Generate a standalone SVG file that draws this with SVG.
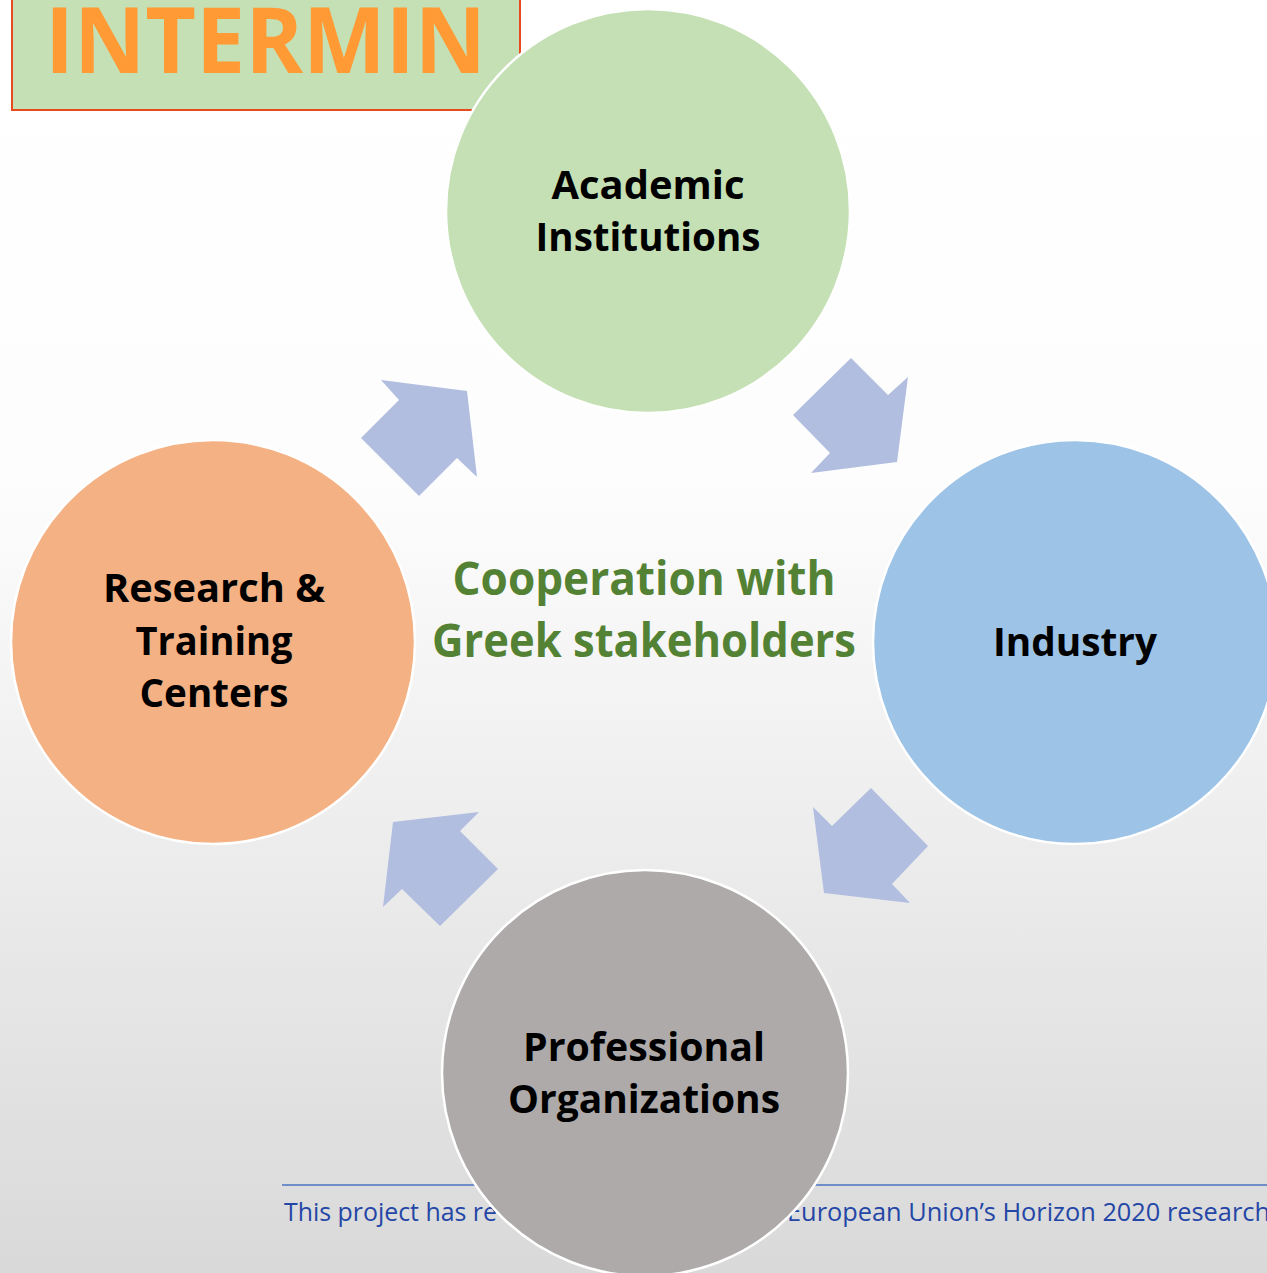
<svg xmlns="http://www.w3.org/2000/svg" width="1267" height="1273" viewBox="0 0 1267 1273">
<defs>
<linearGradient id="bg" x1="0" y1="0" x2="0" y2="1">
<stop offset="0" stop-color="#ffffff"/>
<stop offset="0.38" stop-color="#fdfdfd"/>
<stop offset="1" stop-color="#d9d9d9"/>
</linearGradient>
<style>
.node{stroke:#ffffff;stroke-width:2.5}
.lbl{font-family:"Open Sans","Noto Sans","Liberation Sans",sans-serif;font-weight:bold;font-size:40px;fill:#000000;text-anchor:middle}
.arrow{fill:#b1bee0}
.center{font-family:"Open Sans","Noto Sans","Liberation Sans",sans-serif;font-weight:bold;font-size:46px;fill:#548235;text-anchor:middle}
.foot{font-family:"Open Sans","Noto Sans","Liberation Sans",sans-serif;font-size:25px;fill:#2446a6}
</style>
</defs>
<rect x="0" y="0" width="1267" height="1273" fill="url(#bg)"/>
<g id="logo">
<rect x="12" y="-5" width="508" height="115" fill="#c5e0b4" stroke="#e84a1f" stroke-width="2"/>
<text x="45" y="73" font-family="'Open Sans','Noto Sans',sans-serif" font-weight="bold" font-size="92" fill="#ff9a35" textLength="441" lengthAdjust="spacingAndGlyphs">INTERMIN</text>
</g>
<g id="footer">
<line x1="282" y1="1185" x2="1267" y2="1185" stroke="#4a72c0" stroke-width="1.5"/>
<text class="foot" x="284" y="1221" textLength="213" lengthAdjust="spacingAndGlyphs">This project has re</text>
<text class="foot" x="787" y="1221" textLength="483" lengthAdjust="spacingAndGlyphs">European Union’s Horizon 2020 research</text>
</g>
<g id="connectors">
<polygon class="arrow" points="381,380 467,391 477,477 457,458 419,496 361,438 399,400"/>
<polygon class="arrow" points="851,358 888,395 908,377 897,462 811,473 830,453 793,415"/>
<polygon class="arrow" points="871,788 928,846 892,884 910,903 824,893 813,807 832,826"/>
<polygon class="arrow" points="393,822 479,812 460,831 498,869 440,926 402,889 383,907"/>
</g>
<g id="academic">
<circle class="node" cx="648" cy="211" r="202" fill="#c5e0b4"/>
<text class="lbl" x="648" y="199" textLength="193" lengthAdjust="spacingAndGlyphs">Academic</text>
<text class="lbl" x="648" y="251" textLength="225" lengthAdjust="spacingAndGlyphs">Institutions</text>
</g>
<g id="industry">
<circle class="node" cx="1075" cy="642" r="202" fill="#9dc3e6"/>
<text class="lbl" x="1075" y="656" textLength="164" lengthAdjust="spacingAndGlyphs">Industry</text>
</g>
<g id="research">
<circle class="node" cx="213" cy="642" r="202" fill="#f4b183"/>
<text class="lbl" x="214" y="602" textLength="222" lengthAdjust="spacingAndGlyphs">Research &amp;</text>
<text class="lbl" x="214" y="655" textLength="157" lengthAdjust="spacingAndGlyphs">Training</text>
<text class="lbl" x="214" y="707" textLength="149" lengthAdjust="spacingAndGlyphs">Centers</text>
</g>
<g id="professional">
<circle class="node" cx="645" cy="1073" r="203" fill="#aeaaaa"/>
<text class="lbl" x="644" y="1061" textLength="242" lengthAdjust="spacingAndGlyphs">Professional</text>
<text class="lbl" x="644" y="1113" textLength="272" lengthAdjust="spacingAndGlyphs">Organizations</text>
</g>
<g id="center">
<text class="center" x="644" y="595" textLength="383" lengthAdjust="spacingAndGlyphs">Cooperation with</text>
<text class="center" x="644" y="657" textLength="424" lengthAdjust="spacingAndGlyphs">Greek stakeholders</text>
</g>
</svg>
